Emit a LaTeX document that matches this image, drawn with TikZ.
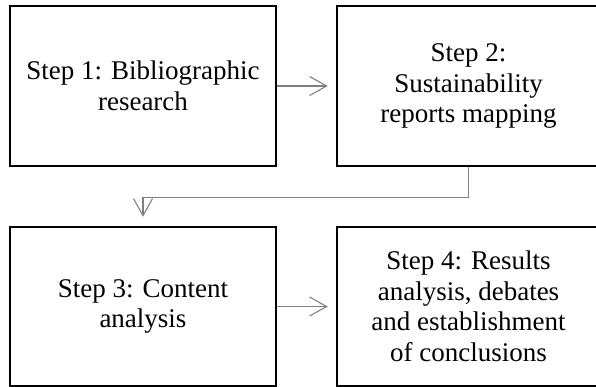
\documentclass[tikz,border=0pt]{standalone}
\usepackage{fontspec}
\setmainfont{Liberation Serif}
\usetikzlibrary{arrows.meta}
\begin{document}
\begin{tikzpicture}[x=1pt,y=-1pt,
  stepbox/.style={draw=black, line width=2.5pt, align=center, inner sep=0pt,
    font=\fontsize{27}{30.5}\selectfont},
  flow/.style={draw=black!50, line width=1.1pt,
    -{Straight Barb[length=17pt,width=19pt]}}]
\useasboundingbox (0,0) rectangle (596,387);
\clip (0,0) rectangle (596,387);
\node[stepbox, minimum width=266pt, minimum height=160pt] (s1) at (143,86)
  {Step 1: Bibliographic\\research};
\node[stepbox, minimum width=263pt, minimum height=160pt] (s2) at (468.5,86)
  {Step 2:\\Sustainability\\reports mapping};
\node[stepbox, minimum width=266pt, minimum height=159pt] (s3) at (143,306.5)
  {Step 3: Content\\analysis};
\node[stepbox, minimum width=263pt, minimum height=159pt] (s4) at (468.5,306.5)
  {Step 4: Results\\analysis, debates\\and establishment\\of conclusions};
\draw[flow, shorten >=8pt] (s1) -- (s2);
\draw[flow, shorten >=9pt] (s2.south) -- ++(0,30) -| (s3.north);
\draw[flow, shorten >=8pt] (s3) -- (s4);
\end{tikzpicture}
\end{document}
